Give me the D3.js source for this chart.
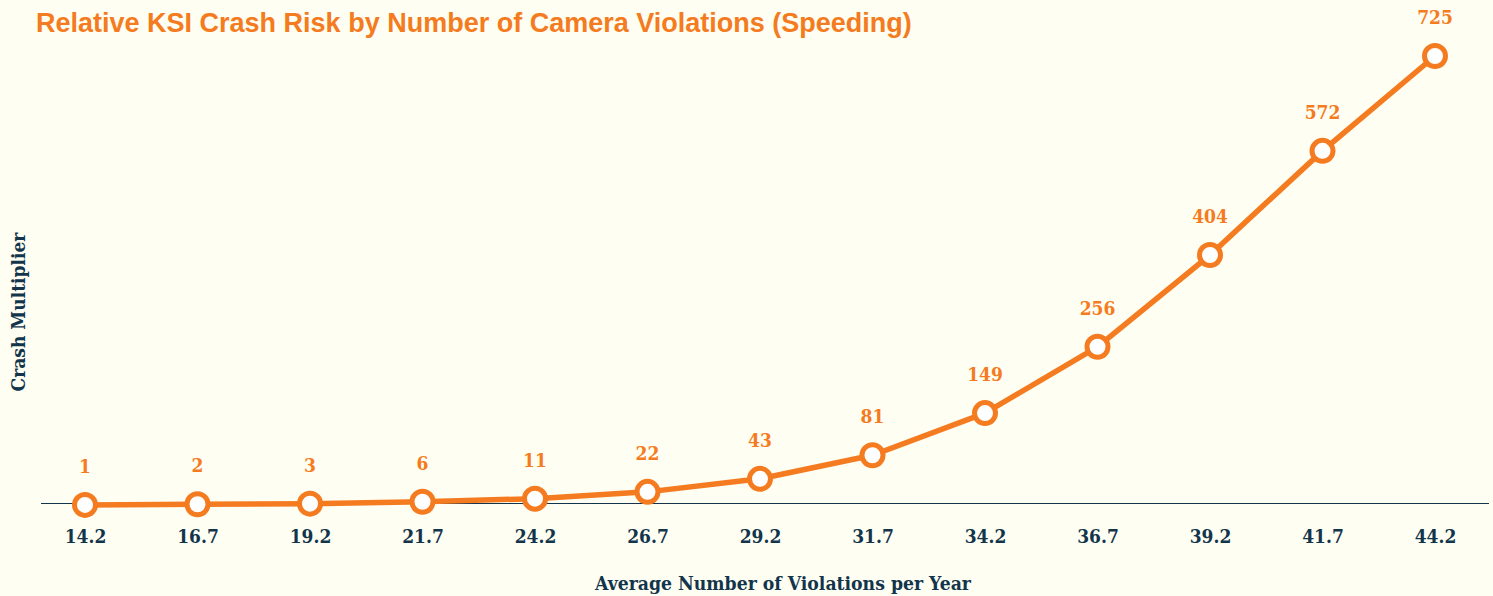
<!DOCTYPE html>
<html>
<head>
<meta charset="utf-8">
<script src="https://cdn.jsdelivr.net/npm/d3@7"></script>
<style>
  html, body { margin: 0; padding: 0; background: #fffef2; }
  svg { display: block; }
  .serif { font-family: 'DejaVu Serif Condensed', 'DejaVu Serif', serif; font-stretch: condensed; font-weight: bold; }
</style>
</head>
<body>
<script>
// Average violations per year (x categories) and the crash multiplier at each
const violations = ["14.2", "16.7", "19.2", "21.7", "24.2", "26.7", "29.2", "31.7", "34.2", "36.7", "39.2", "41.7", "44.2"];
const multipliers = [1, 2, 3, 6, 11, 22, 43, 81, 149, 256, 404, 572, 725];

const titleText = "Relative KSI Crash Risk by Number of Camera Violations (Speeding)";
const xTitle = "Average Number of Violations per Year";
const yTitle = "Crash Multiplier";

const W = 1493, H = 596;
const orange = "#f47b20";
const navy = "#12354c";

const svg = d3.select("body").append("svg").attr("width", W).attr("height", H);
svg.append("rect").attr("width", W).attr("height", H).attr("fill", "#fffef2");

const x = d3.scalePoint().domain(violations).range([85, 1435]);
const y = d3.scaleLinear().domain([0, 725]).range([505.5, 56]);

// title
svg.append("text")
  .attr("x", 36).attr("y", 32)
  .attr("font-family", "'Liberation Sans', Arial, sans-serif")
  .attr("font-weight", "bold").attr("font-size", 27)
  .attr("fill", orange)
  .text(titleText);

// x axis with baseline
const xAxis = d3.axisBottom(x).tickSize(0);
const gx = svg.append("g").attr("transform", "translate(0,503.5)").call(xAxis);
gx.select(".domain").remove();
gx.append("line").attr("x1", 41).attr("x2", 1489).attr("stroke", navy).attr("stroke-width", 1.2);
gx.selectAll(".tick text")
  .attr("class", "serif")
  .attr("y", 39.5).attr("dy", 0)
  .attr("font-size", 19)
  .attr("fill", navy);

// axis titles
svg.append("text").attr("class", "serif")
  .attr("x", 783).attr("y", 590)
  .attr("text-anchor", "middle")
  .attr("font-size", 19.2)
  .attr("fill", navy).text(xTitle);

svg.append("text").attr("class", "serif")
  .attr("transform", "translate(25,312) rotate(-90)")
  .attr("text-anchor", "middle")
  .attr("font-size", 19)
  .attr("fill", navy).text(yTitle);

const data = violations.map((v, i) => ({ v, m: multipliers[i] }));

// line
svg.append("path").datum(data)
  .attr("fill", "none").attr("stroke", orange).attr("stroke-width", 5.5)
  .attr("stroke-linejoin", "round")
  .attr("d", d3.line().x(d => x(d.v)).y(d => y(d.m)));

// markers
svg.append("g").selectAll("circle").data(data).join("circle")
  .attr("cx", d => x(d.v)).attr("cy", d => y(d.m)).attr("r", 10.5)
  .attr("fill", "#ffffff").attr("stroke", orange).attr("stroke-width", 5);

// value labels
svg.append("g").selectAll("text").data(data).join("text")
  .attr("class", "serif")
  .attr("x", d => x(d.v)).attr("y", d => y(d.m) - 32)
  .attr("text-anchor", "middle")
  .attr("font-size", 19)
  .attr("fill", orange)
  .text(d => d.m);
</script>
</body>
</html>
